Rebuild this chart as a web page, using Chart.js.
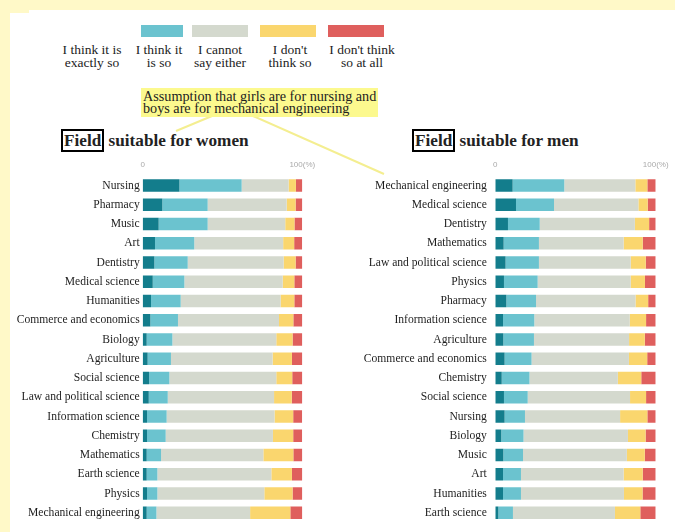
<!DOCTYPE html>
<html>
<head>
<meta charset="utf-8">
<script src="https://cdn.jsdelivr.net/npm/chart.js@4/dist/chart.umd.min.js"></script>
<style>
  html, body { margin: 0; padding: 0; }
  body { width: 675px; height: 532px; background: #fff9c8; position: relative; overflow: hidden;
         font-family: "Liberation Serif", serif; color: #222; }
  .panel { position: absolute; left: 10px; top: 10px; right: 0; bottom: 0; background: #fff; }
  .notch { position: absolute; left: 10px; top: 10px; width: 19px; height: 3px; background: #fff9c8; }
  .sw { position: absolute; top: 25px; height: 12px; }
  .lg { position: absolute; top: 43px; width: 90px; text-align: center; font-size: 13.5px; line-height: 13px; }
  .callout { position: absolute; left: 141px; top: 88px; width: 237px; height: 29px; background: #fcf98e;
             font-size: 14.2px; line-height: 12px; padding: 2px 0 0 2px; box-sizing: border-box; white-space: nowrap; }
  .title { position: absolute; top: 131px; font-weight: bold; font-size: 17.2px; line-height: 20px; white-space: nowrap; }
  .title span { border: 2px solid #000; padding: 0 1px; }
  svg { position: absolute; left: 0; top: 0; }
  canvas { position: absolute; }
</style>
</head>
<body>
<div class="panel"></div>
<div class="notch"></div>

<!-- legend -->
<div class="sw" style="left:141px;width:42px;background:#6bc3cf"></div>
<div class="sw" style="left:192px;width:56px;background:#d4d9ce"></div>
<div class="sw" style="left:260px;width:56px;background:#fad66e"></div>
<div class="sw" style="left:328px;width:56px;background:#df5f5d"></div>
<div class="lg" style="left:47px">I think it is<br>exactly so</div>
<div class="lg" style="left:114px">I think it<br>is so</div>
<div class="lg" style="left:175px">I cannot<br>say either</div>
<div class="lg" style="left:245px">I don't<br>think so</div>
<div class="lg" style="left:317px">I don't think<br>so at all</div>

<svg width="675" height="532">
  <line x1="212" y1="116" x2="176" y2="131" stroke="#f4ee90" stroke-width="2"/>
  <line x1="253" y1="116" x2="384" y2="174" stroke="#f4ee90" stroke-width="2"/>
</svg>
<div class="callout">Assumption that girls are for nursing and<br>boys are for mechanical engineering</div>

<div class="title" style="left:61px"><span>Field</span> suitable for women</div>
<div class="title" style="left:412px"><span>Field</span> suitable for men</div>

<canvas id="c-women" width="322" height="382" style="left:0;top:150px"></canvas>
<canvas id="c-men" width="345" height="382" style="left:330px;top:150px"></canvas>

<script>
const COLORS = ["#137d8c", "#6bc3cf", "#d4d9ce", "#fad66e", "#df5f5d"];
const ANSWERS = ["I think it is exactly so", "I think it is so", "I cannot say either", "I don't think so", "I don't think so at all"];
const X_TICKS = [0, 100];

// women (percent)
const womenFields = ["Nursing", "Pharmacy", "Music", "Art", "Dentistry", "Medical science", "Humanities",
  "Commerce and economics", "Biology", "Agriculture", "Social science", "Law and political science",
  "Information science", "Chemistry", "Mathematics", "Earth science", "Physics", "Mechanical engineering"];
const womenExactly = [23.0, 12.3, 10.0, 7.7, 7.3, 6.3, 5.2, 4.8, 2.5, 3.1, 4.0, 3.8, 2.7, 2.7, 2.5, 2.5, 2.7, 2.5];
const womenThink   = [39.0, 28.4, 30.7, 24.6, 20.9, 19.8, 18.6, 17.3, 16.1, 14.6, 12.7, 11.9, 12.3, 11.7, 9.0, 6.7, 6.5, 6.1];
const womenCannot  = [29.4, 49.5, 48.6, 55.7, 60.1, 61.6, 62.6, 63.3, 65.1, 63.7, 67.0, 66.6, 67.6, 67.2, 64.1, 71.4, 67.0, 58.7];
const womenDont    = [4.6, 5.6, 5.8, 6.9, 7.5, 7.3, 8.6, 9.0, 10.2, 12.1, 10.0, 11.1, 11.7, 12.7, 18.8, 12.9, 17.7, 25.2];
const womenNotAll  = [4.0, 4.2, 4.8, 5.0, 4.2, 5.0, 5.0, 5.6, 6.1, 6.5, 6.3, 6.6, 5.6, 5.6, 5.6, 6.5, 6.1, 7.5];

// men (percent)
const menFields = ["Mechanical engineering", "Medical science", "Dentistry", "Mathematics", "Law and political science",
  "Physics", "Pharmacy", "Information science", "Agriculture", "Commerce and economics", "Chemistry", "Social science",
  "Nursing", "Biology", "Music", "Art", "Humanities", "Earth science"];
const menExactly = [10.8, 12.9, 7.9, 5.2, 6.4, 5.4, 6.9, 4.8, 5.0, 5.8, 4.0, 5.4, 5.8, 3.7, 5.0, 4.8, 4.8, 1.9];
const menThink   = [32.2, 23.7, 19.8, 22.0, 20.8, 21.0, 18.5, 19.5, 19.1, 16.8, 17.3, 14.8, 12.7, 13.9, 12.3, 11.2, 11.2, 9.1];
const menCannot  = [44.3, 52.6, 59.3, 52.8, 57.2, 58.0, 62.0, 59.5, 59.3, 60.7, 55.1, 63.8, 59.3, 65.1, 64.7, 64.0, 64.2, 63.6];
const menDont    = [7.5, 5.8, 8.9, 11.9, 9.4, 8.9, 7.9, 10.2, 9.8, 11.4, 14.6, 10.0, 17.0, 11.0, 11.2, 11.9, 11.6, 15.8];
const menNotAll  = [5.2, 5.0, 4.1, 8.1, 6.2, 6.7, 4.7, 6.0, 6.8, 5.3, 9.0, 6.0, 5.2, 6.3, 6.8, 8.1, 8.2, 9.6];

// kill the overflow padding chart.js adds for edge labels, so the plot box stays where we put it
const noEdgePad = (s) => { s.paddingLeft = 0; s.paddingRight = 0; s.paddingTop = 0; s.paddingBottom = 0; };

function makeChart(id, fields, series, axisWidth, labelPad, rightPad) {
  new Chart(document.getElementById(id), {
    type: "bar",
    data: {
      labels: fields,
      datasets: series.map((d, i) => ({ label: ANSWERS[i], data: d, backgroundColor: COLORS[i], borderWidth: 0,
        barPercentage: 0.65, categoryPercentage: 1 })),
    },
    options: {
      indexAxis: "y",
      responsive: false,
      animation: false,
      layout: { padding: { top: 0, left: 0, right: rightPad, bottom: 9.6 } },
      plugins: { legend: { display: false }, tooltip: { enabled: false } },
      scales: {
        x: {
          stacked: true, position: "top", min: 0, max: 100,
          afterBuildTicks: (s) => { s.ticks = X_TICKS.map((v) => ({ value: v })); },
          afterFit: (s) => { s.height = 25.9; noEdgePad(s); },
          grid: { display: false, drawTicks: false },
          border: { display: false },
          ticks: { padding: 6, color: "#aaa", font: { size: 8, family: "Liberation Sans" },
            callback: (v) => (v === 100 ? "100(%)" : v), maxRotation: 0 },
        },
        y: {
          stacked: true,
          afterFit: (s) => { s.width = axisWidth; noEdgePad(s); },
          grid: { display: false, drawTicks: false },
          border: { display: false },
          ticks: { padding: labelPad, color: "#1e1e1e", font: { size: 11.6, family: "Liberation Serif" }, autoSkip: false },
        },
      },
    },
  });
}

makeChart("c-women", womenFields, [womenExactly, womenThink, womenCannot, womenDont, womenNotAll], 142.7, 3, 19.7);
makeChart("c-men", menFields, [menExactly, menThink, menCannot, menDont, menNotAll], 165.3, 8.5, 19.3);
</script>
</body>
</html>
